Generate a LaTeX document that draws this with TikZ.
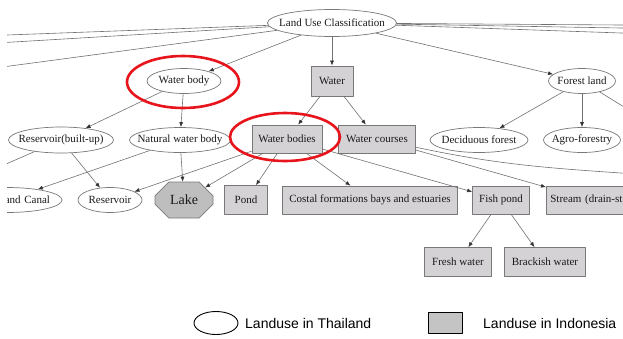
\documentclass[tikz,border=0pt]{standalone}
\usepackage{fontspec}
\setmainfont{Liberation Serif}
\newfontfamily\legendfont{Liberation Sans}
\usepackage{xcolor}
\usetikzlibrary{arrows.meta,shapes.geometric,shapes.misc}
\definecolor{edgegray}{HTML}{707070}
\definecolor{bordergray}{HTML}{787878}
\definecolor{boxfill}{HTML}{D4D2D4}
\definecolor{lakefill}{HTML}{BEBEBE}
\definecolor{legendfill}{HTML}{C4C4C4}
\definecolor{ringred}{HTML}{E8141C}
\definecolor{ink}{HTML}{1A1A1A}
\tikzset{
    every picture/.style={line join=round},
    thainode/.style={ellipse,draw=bordergray,fill=white,line width=0.7pt,
      inner xsep=-20pt,inner ysep=0pt,minimum height=25pt,text=ink,
      font=\fontsize{11}{13}\selectfont},
    indonode/.style={rectangle,draw=bordergray,fill=boxfill,line width=0.7pt,
      minimum height=28pt,inner xsep=4pt,text=ink,
      font=\fontsize{11}{13}\selectfont},
    lakenode/.style={chamfered rectangle,chamfered rectangle xsep=14pt,
      chamfered rectangle ysep=9pt,draw=bordergray,fill=lakefill,line width=0.7pt,
      minimum width=58pt,minimum height=36pt,inner sep=0pt,text=ink,
      font=\fontsize{14}{16}\selectfont},
    flowarrow/.style={-{Latex[length=5pt,width=4pt,color=black!80]},draw=edgegray,line width=0.6pt},
    offedge/.style={draw=edgegray,line width=0.6pt},
    redring/.style={draw=ringred,line width=2.6pt},
    legendtext/.style={anchor=west,inner sep=0pt,font=\legendfont\fontsize{14}{16}\selectfont}
}

\begin{document}
\begin{tikzpicture}[x=1pt,y=-1pt]
  \useasboundingbox (0,0) rectangle (623,338);
  \begin{scope}
  \clip (7,0) rectangle (623,300);
  % top levels
  \node[thainode,minimum width=129pt,minimum height=27pt] (luc) at (332,23) {Land Use Classification};
  \node[thainode,minimum width=74pt] (wbody) at (184,81) {Water body};
  \node[indonode,minimum width=42pt,minimum height=30pt] (water) at (332,81) {Water};
  \node[thainode,minimum width=67pt] (forest) at (582,81) {Forest land};
  % second level
  \node[thainode,minimum width=105pt,minimum height=26pt] (resbuilt) at (61,140) {Reservoir(built-up)};
  \node[thainode,minimum width=101pt] (natural) at (180,140) {Natural water body};
  \node[indonode,minimum width=70pt] (wbodies) at (287,139) {Water bodies};
  \node[indonode,minimum width=77pt] (wcourses) at (377,139) {Water courses};
  \node[thainode,minimum width=98pt] (decid) at (479,140) {Deciduous forest};
  \node[thainode,minimum width=77pt] (agro) at (582,140) {Agro-forestry};
  % third level
  \node[thainode,minimum width=110pt,text width=86pt,align=right] (canal) at (7,200) {and Canal};
  \node[thainode,minimum width=64pt] (reservoir) at (110,200) {Reservoir};
  \node[lakenode] (lake) at (184,200) {Lake};
  \node[indonode,minimum width=43pt,minimum height=29pt] (pond) at (246,200) {Pond};
  \node[indonode,minimum width=175pt] (costal) at (370,200) {Costal formations bays and estuaries};
  \node[indonode,minimum width=57pt] (fishpond) at (501,200) {Fish pond};
  \node[indonode,anchor=west,text width=82pt,align=left] (stream) at (546,200) {Stream (drain-st};
  % fourth level
  \node[indonode,minimum width=67pt,minimum height=29pt] (fresh) at (458,262) {Fresh water};
  \node[indonode,minimum width=81pt,minimum height=29pt] (brackish) at (545,262) {Brackish water};
  % ends of edges that leave the picture
  \coordinate (offA) at (-20,36);
  \coordinate (offB) at (-20,44);
  \coordinate (offC) at (-20,70);
  \coordinate (offE) at (650,25.2);
  \coordinate (offF) at (650,28.5);
  \coordinate (offG) at (650,34);
  \coordinate (offH) at (650,123);
  \coordinate (offI) at (-10,171);
  \coordinate (offJ) at (650,175);
  % edges
  \foreach \c in {offA,offB,offC,offE,offF,offG}
    \draw[offedge] (luc) -- (\c);
  \draw[flowarrow] (luc) -- (wbody);
  \draw[flowarrow] (luc) -- (water);
  \draw[flowarrow] (luc) -- (forest);
  \draw[flowarrow] (wbody) -- (resbuilt);
  \draw[flowarrow] (wbody) -- (natural);
  \draw[flowarrow] (water) -- (wbodies);
  \draw[flowarrow] (water) -- (wcourses);
  \draw[flowarrow] (forest) -- (decid);
  \draw[flowarrow] (forest) -- (agro);
  \draw[offedge] (forest) -- (offH);
  \draw[offedge] (resbuilt) -- (offI);
  \draw[flowarrow] (resbuilt) -- (reservoir);
  \draw[flowarrow] (natural) -- (canal);
  \draw[flowarrow] (natural) -- (lake);
  \foreach \t in {reservoir,lake,pond,costal,fishpond}
    \draw[flowarrow] (wbodies) -- (\t);
  \draw[flowarrow] (wcourses) -- (stream);
  \draw[offedge] (wcourses) to[out=-12,in=176] (offJ);
  \draw[flowarrow] (fishpond) -- (fresh);
  \draw[flowarrow] (fishpond) -- (brackish);
  % highlights
  \draw[redring] (183,82) ellipse [x radius=56pt,y radius=26pt];
  \draw[redring] (285,137) ellipse [x radius=55pt,y radius=24pt];
  \end{scope}
  % legend
  \node[ellipse,draw=black,line width=0.9pt,minimum width=44pt,minimum height=23pt,inner sep=0pt] (thaikey) at (216,323) {};
  \node[legendtext] (thaitext) at (245,323) {Landuse in Thailand};
  \node[draw=black,fill=legendfill,line width=0.9pt,minimum width=34pt,minimum height=21pt,inner sep=0pt] (indokey) at (445,322.5) {};
  \node[legendtext] (indotext) at (483,323) {Landuse in Indonesia};
\end{tikzpicture}
\end{document}
